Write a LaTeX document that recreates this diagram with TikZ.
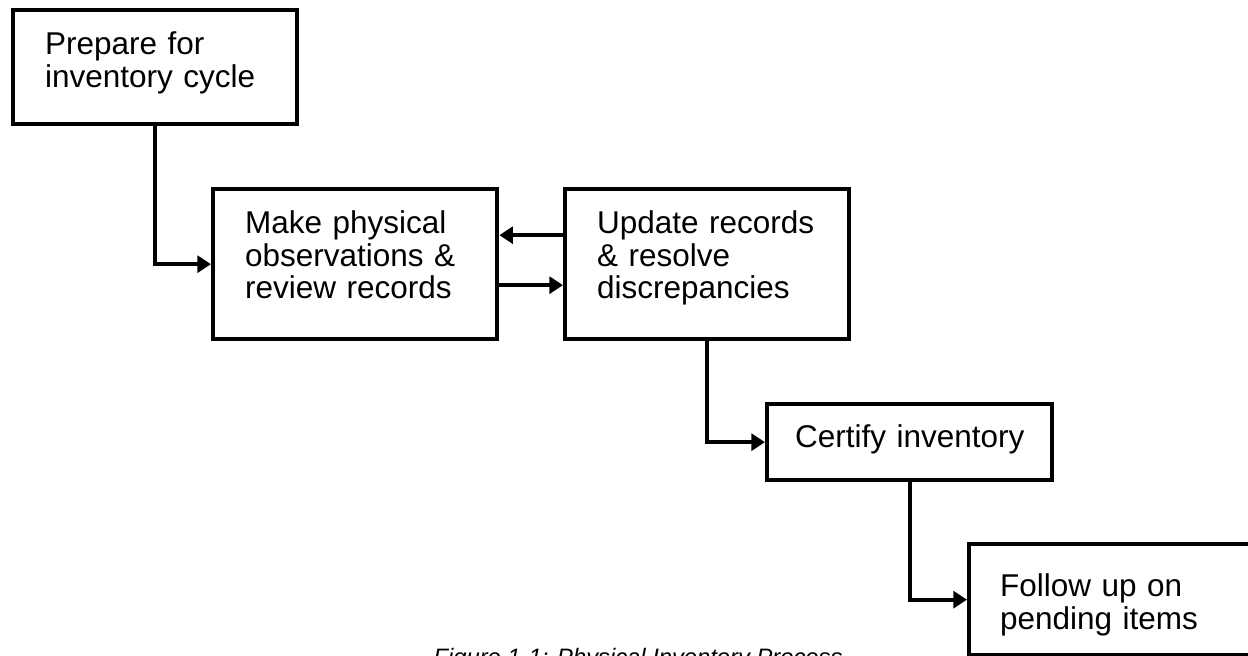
\documentclass[tikz,border=0pt]{standalone}
\usepackage{fontspec}
\setmainfont{Liberation Sans}
\usetikzlibrary{arrows.meta}

\begin{document}
\begin{tikzpicture}[line width = 3.1pt,
                    stepbox/.style = {rectangle, draw, anchor = north west, align = left,
                                      inner ysep = 0pt, inner xsep = 0.8cm, text width = 5.5cm,
                                      font = \fontsize{22.4pt}{23.4pt}\selectfont},
                    flow/.style = {-{Triangle[length = 0.34cm, width = 0.42cm]}}]
  \clip (0,0) rectangle (31.2,-16.4);

  \node [stepbox, text height = 1.1cm, text depth = 1.75cm] (S1) at (0.275,-0.2)
        {Prepare for\\inventory cycle};
  \node [stepbox, text height = 1.1cm, text depth = 2.65cm] (S2) at (5.275,-4.675)
        {Make physical\\observations \&\\review records};
  \node [stepbox, text height = 1.1cm, text depth = 2.65cm] (S3) at (14.075,-4.675)
        {Update records\\\& resolve\\discrepancies};
  \node [stepbox, inner xsep = 0.7cm, text width = 5.725cm,
         text height = 1.075cm, text depth = 0.825cm] (S4) at (19.125,-10.05)
        {\mbox{Certify inventory}};
  \node [stepbox, inner xsep = 0.775cm, text width = 5.775cm,
         text height = 1.3cm, text depth = 1.475cm] (S5) at (24.175,-13.55)
        {Follow up on\\pending items};

  \node [anchor = base, font = \fontsize{16.9pt}{20pt}\selectfont\itshape] (cap) at (15.95,-16.625)
        {Figure 1-1: Physical Inventory Process};

  \draw [flow] (S1.south) |- (S2.west);
  \draw [flow] ([yshift = 0.725cm]S3.west) -- ([yshift = 0.725cm]S2.east);
  \draw [flow] ([yshift = -0.525cm]S2.east) -- ([yshift = -0.525cm]S3.west);
  \draw [flow] (S3.south) |- (S4.west);
  \draw [flow] (S4.south) |- (S5.west);
\end{tikzpicture}
\end{document}
